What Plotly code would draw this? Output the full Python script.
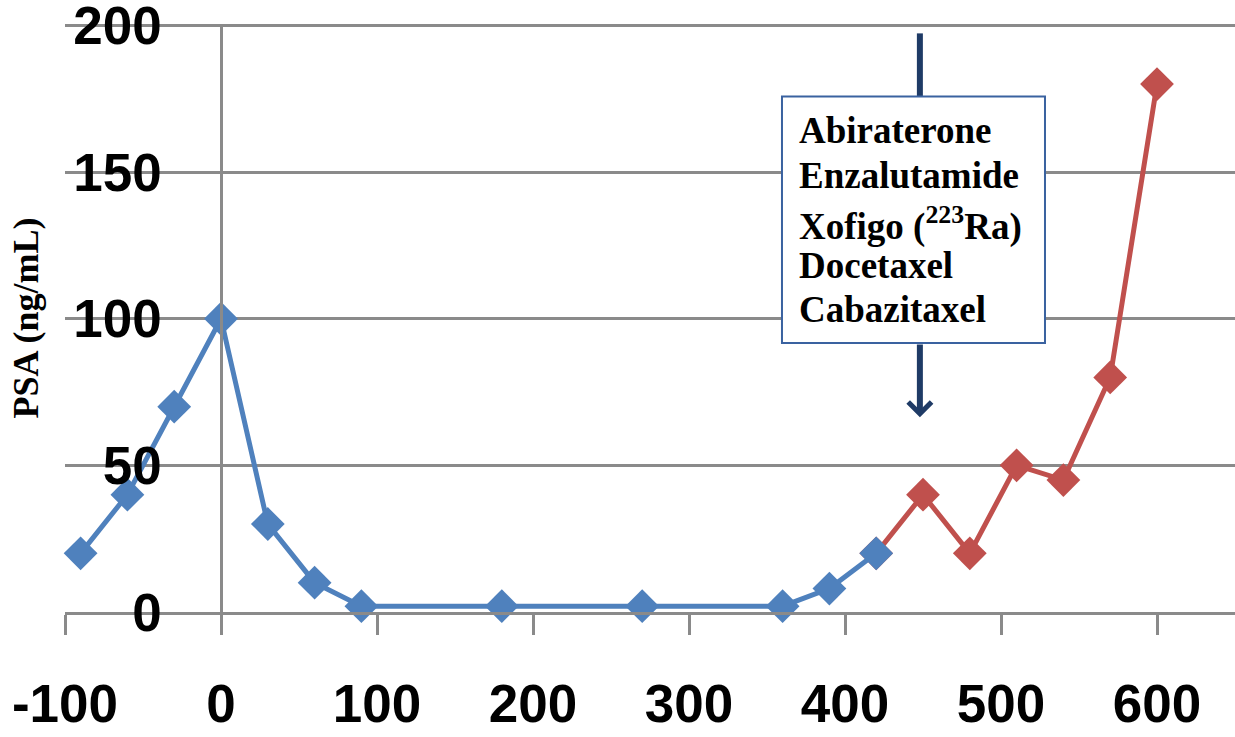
import plotly.graph_objects as go

# PSA measurements (ng/mL) by day, relative to day 0
days_response = [-90, -60, -30, 0, 30, 60, 90, 180, 270, 360, 390, 420]
psa_response = [20, 40, 70, 100, 30, 10, 2, 2, 2, 2, 8, 20]

days_progression = [420, 450, 480, 510, 540, 570, 600]
psa_progression = [20, 40, 20, 50, 45, 80, 180]

x_ticks = [-100, 0, 100, 200, 300, 400, 500, 600]
y_ticks = [0, 50, 100, 150, 200]

therapies = ["Abiraterone", "Enzalutamide", "Xofigo (<sup>223</sup>Ra)", "Docetaxel", "Cabazitaxel"]

X_RANGE = [-100, 650]
# a hair above 200 so the top gridline is not clipped at the plot edge
Y_RANGE = [0, 200.5]

GRID = "#8a8a8a"
BLUE = "#4f81bd"
RED = "#c0504d"
NAVY = "#1f3b66"

fig = go.Figure()

# progression segment first so the blue marker at the junction sits on top
fig.add_trace(go.Scatter(
    x=days_progression, y=psa_progression, mode="lines+markers",
    line=dict(color=RED, width=5),
    marker=dict(symbol="diamond", size=26, color=RED),
    showlegend=False, cliponaxis=False,
))
fig.add_trace(go.Scatter(
    x=days_response, y=psa_response, mode="lines+markers",
    line=dict(color=BLUE, width=5),
    marker=dict(symbol="diamond", size=26, color=BLUE),
    showlegend=False, cliponaxis=False,
))

# therapy callout box
box_x0, box_x1 = 359.6, 528.2
box_y0, box_y1 = 91.7, 175.8
arrow_x = 448
arrow_top, arrow_tip = 197.3, 66.4

fig.add_shape(type="line", xref="x", yref="y",
              x0=arrow_x, x1=arrow_x, y0=arrow_top, y1=box_y1,
              line=dict(color=NAVY, width=6), layer="above")
fig.add_shape(type="rect", xref="x", yref="y",
              x0=box_x0, x1=box_x1, y0=box_y0, y1=box_y1,
              line=dict(color="#3a62a0", width=2), fillcolor="white", layer="above")
fig.add_annotation(
    x=arrow_x, y=arrow_tip, ax=arrow_x, ay=box_y0, xref="x", yref="y",
    axref="x", ayref="y", text="", showarrow=True,
    arrowhead=4, arrowsize=0.75, arrowwidth=6, arrowcolor=NAVY, standoff=0,
)

# one annotation per therapy line, stacked at a fixed line pitch
line_pitch = 44.7
for i, name in enumerate(therapies):
    fig.add_annotation(
        x=370.0, y=box_y1, xref="x", yref="y", xanchor="left", yanchor="top",
        text=name, showarrow=False, align="left", borderpad=0,
        yshift=-13 - i * line_pitch,
        font=dict(family="Liberation Serif", size=37, color="black", weight="bold"),
    )

axis_font = dict(family="Liberation Sans", size=53, color="black", weight="bold")

fig.update_layout(
    width=1235, height=737,
    margin=dict(l=65, r=0, t=24, b=125),
    paper_bgcolor="white", plot_bgcolor="white",
    xaxis=dict(
        range=X_RANGE, tickvals=x_ticks, ticktext=[str(v) for v in x_ticks],
        showgrid=False, zeroline=False, automargin=False,
        showline=True, linecolor=GRID, linewidth=2.5,
        ticks="outside", ticklen=20, tickwidth=2.5, tickcolor=GRID,
        ticklabelstandoff=24, tickfont=axis_font, ticklabeloverflow="allow",
    ),
    yaxis=dict(
        range=Y_RANGE, tickvals=y_ticks, ticktext=[str(v) for v in y_ticks],
        anchor="free", position=(0 - X_RANGE[0]) / (X_RANGE[1] - X_RANGE[0]),
        showgrid=True, gridcolor=GRID, gridwidth=2.5, zeroline=False,
        showline=True, linecolor=GRID, linewidth=2.5, automargin=False,
        ticks="", ticklabelstandoff=48, tickfont=axis_font, ticklabeloverflow="allow",
        title=dict(text="PSA (ng/mL)", standoff=22,
                   font=dict(family="Liberation Serif", size=36, color="black", weight="bold")),
    ),
)

fig.write_html("out.html")
